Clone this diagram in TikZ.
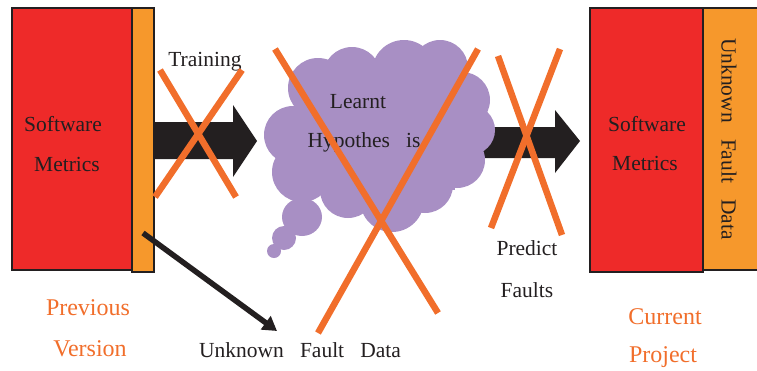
\documentclass[tikz,border=0pt]{standalone}
\usepackage{fontspec}
\setmainfont{Liberation Serif}
\usetikzlibrary{arrows.meta}
\definecolor{boxred}{RGB}{238,42,41}
\definecolor{boxorange}{RGB}{246,152,44}
\definecolor{crossorange}{RGB}{241,110,43}
\definecolor{cloudpurple}{RGB}{168,143,196}
\definecolor{arrowblack}{RGB}{35,31,32}
\tikzset{
  box/.style={draw=arrowblack, line width=2.5pt},
  lbl/.style={font=\fontsize{21.5}{24}\selectfont, text=arrowblack, inner sep=0pt},
  olbl/.style={font=\fontsize{24}{26}\selectfont, text=crossorange, inner sep=0pt},
  crossline/.style={draw=crossorange, line width=6.5pt},
  bigarrow/.style={fill=arrowblack},
}
\begin{document}
\begin{tikzpicture}[x=1pt,y=-1pt]
\useasboundingbox (0,0) rectangle (757,370);
% left boxes
\draw[box, fill=boxred] (12,8) rectangle (132,270);
\draw[box, fill=boxorange] (132,8) rectangle (154,272);
\node[lbl] (sm1) at (63,124) {Software};
\node[lbl] (mt1) at (67,164) {Metrics};
\node[olbl] (pv) at (88,308) {Previous};
\node[olbl] (vs) at (90,349) {Version};
% right boxes
\draw[box, fill=boxorange] (703,8) rectangle (760,270);
\draw[box, fill=boxred] (590,8) rectangle (703,272);
\node[lbl] (sm2) at (647,124) {Software};
\node[lbl] (mt2) at (645,163) {Metrics};
\node[lbl, rotate=-90] (ufd2) at (729,139) {Unknown\ \ \ Fault\ \ \ Data};
\node[olbl] (cp) at (665,317) {Current};
\node[olbl] (pj) at (663,357) {Project};
% arrow 1
\fill[bigarrow] (155,122) -- (233,122) -- (233,105) -- (257,141) -- (233,177) -- (233,159) -- (155,159) -- cycle;
% arrow 2
\fill[bigarrow] (470,127) -- (555,127) -- (555,110) -- (580,141) -- (555,173) -- (555,158) -- (470,158) -- cycle;
% cloud
\begin{scope}[fill=cloudpurple]
\fill (300,85) rectangle (455,190);
\fill (318,88) circle (30);
\fill (352,76) circle (29);
\fill (404,72) circle (32);
\fill (440,68) circle (28);
\fill (462,100) circle (28);
\fill (470,130) circle (25);
\fill (457,160) circle (28);
\fill (425,185) circle (28);
\fill (392,200) circle (32);
\fill (348,190) circle (28);
\fill (302,172) circle (30);
\fill (293,135) circle (29);
\fill (302,217) ellipse [x radius=20, y radius=19];
\fill (284,238) circle (12);
\fill (274,251) circle (7);
\end{scope}
\node[lbl] (lh1) at (358,102) {Learnt};
\node[lbl] (lh2) at (364,142) {Hypothes\ \ \ is};
% labels
\node[lbl] (tr) at (205,62) {Training};
\node[lbl] (pr1) at (527,248) {Predict};
\node[lbl] (pr2) at (527,290) {Faults};
\node[lbl] (ufd) at (300,350) {Unknown\ \ \ Fault\ \ \ Data};
% thin arrow
\coordinate (ts) at (143,233);
\coordinate (te) at (277,331);
\draw[arrowblack, line width=5.5pt, -{Triangle[length=14pt,width=16pt]}] (ts) -- (te);
% crosses
\draw[crossline] (160,70) -- (236,197);
\draw[crossline] (242,70) -- (155,197);
\draw[crossline] (275,49) -- (438,313);
\draw[crossline] (478,49) -- (318,333);
\draw[crossline] (498,56) -- (562,235);
\draw[crossline] (560,49) -- (491,228);
\end{tikzpicture}
\end{document}
